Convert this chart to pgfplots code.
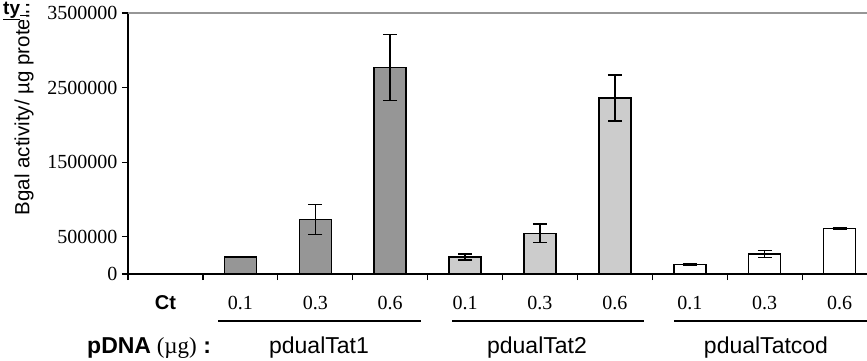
\documentclass[border=0pt]{standalone}
\usepackage{fontspec}
\setmainfont{Liberation Serif}
\setsansfont{Liberation Sans}
\usepackage{pgfplots}
\pgfplotsset{compat=1.18}
\definecolor{darkbar}{RGB}{150,150,150}
\definecolor{lightbar}{RGB}{204,204,204}
\definecolor{frame}{RGB}{150,150,150}
\begin{document}
\begin{tikzpicture}
\useasboundingbox (-128pt,-86pt) rectangle (739pt,274pt);
\begin{axis}[
  at={(0pt,0pt)}, anchor=south west,
  scale only axis, width=739pt, height=261pt,
  xmin=-0.5, xmax=9.366, ymin=0, ymax=3500000,
  clip=false,
  separate axis lines,
  axis x line*=bottom, axis y line*=left,
  axis line style={line width=1.2pt, black, -},
  ybar, bar width=32pt, bar shift=0pt,
  scaled y ticks=false,
  ytick={0,500000,1500000,2500000,3500000},
  yticklabels={0,500000,1500000,2500000,3500000},
  y tick label style={font=\fontsize{20}{23}\selectfont, xshift=-1pt},
  xtick={0,...,9},
  xticklabels={\textbf{\sffamily Ct},0.1,0.3,0.6,0.1,0.3,0.6,0.1,0.3,0.6},
  x tick label style={font=\fontsize{20}{23}\selectfont, anchor=base, yshift=-29pt},
  x tick style={draw=none},
  minor xtick={-0.5,0.5,1.5,2.5,3.5,4.5,5.5,6.5,7.5,8.5},
  minor x tick style={draw=black, line width=1.2pt},
  y tick style={line width=1.2pt, black},
  tick align=outside,
  major tick length=6pt, minor tick length=6pt,
  error bars/y dir=both, error bars/y explicit,
  error bars/error mark options={rotate=90, mark size=7pt, line width=1.5pt},
  error bars/error bar style={line width=1.5pt},
]
\addplot[fill=darkbar, draw=black, line width=1.5pt] table[x=x, y=y, y error=e] {
x y e
0 5000 4000
1 230000 5000
2 730000 200000
3 2770000 440000
};
\addplot[fill=lightbar, draw=black, line width=1.5pt] table[x=x, y=y, y error=e] {
x y e
4 225000 40000
5 546000 125000
6 2360000 310000
};
\addplot[fill=white, draw=black, line width=1.5pt] table[x=x, y=y, y error=e] {
x y e
7 130000 8000
8 268000 45000
9 613000 8000
};
\end{axis}
\draw[frame, line width=1.5pt] (0pt,261pt) -- (739pt,261pt);
\draw[black, line width=1.2pt] (90pt,-47pt) -- (293pt,-47pt);
\draw[black, line width=1.2pt] (324pt,-47pt) -- (516pt,-47pt);
\draw[black, line width=1.2pt] (546pt,-47pt) -- (739pt,-47pt);
\node[anchor=base, font=\sffamily\fontsize{23}{26}\selectfont, inner sep=0pt] at (191pt,-79pt) {pdualTat1};
\node[anchor=base, font=\sffamily\fontsize{23}{26}\selectfont, inner sep=0pt] at (409pt,-79pt) {pdualTat2};
\node[anchor=base, font=\sffamily\fontsize{23}{26}\selectfont, inner sep=0pt] at (638pt,-79pt) {pdualTatcod};
\node[anchor=base west, inner sep=0pt, font=\fontsize{23}{26}\selectfont] at (-41pt,-79pt) {\textbf{\sffamily pDNA} (µg)\textbf{\sffamily\ :}};
\node[rotate=90, font=\sffamily\fontsize{20.5}{23}\selectfont, inner sep=0pt] at (-104pt,165pt) {Bgal activity/ µg protein};
\node[font=\sffamily\bfseries\fontsize{19}{22}\selectfont, inner sep=0pt, fill=white, anchor=base west] at (-125pt,260pt) {\underline{ty}\rule[-2.2pt]{6pt}{1.1pt}};
\end{tikzpicture}
\end{document}
